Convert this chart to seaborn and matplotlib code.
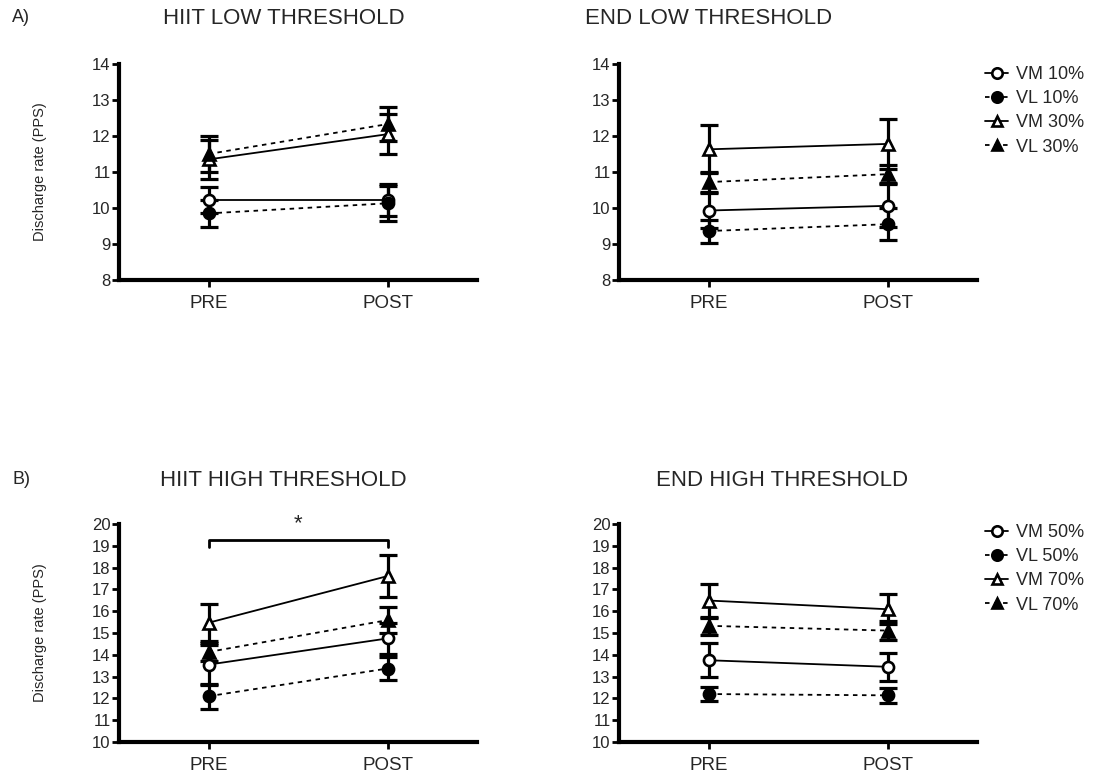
import matplotlib
matplotlib.use("Agg")
import matplotlib.pyplot as plt
from matplotlib.lines import Line2D
import numpy as np
import pandas as pd
import seaborn as sns

times = ["PRE", "POST"]
low_labels = ["VM 10%", "VL 10%", "VM 30%", "VL 30%"]
high_labels = ["VM 50%", "VL 50%", "VM 70%", "VL 70%"]

# HIIT low threshold (mean, SEM) per series: [PRE, POST]
hiit_low_vm10 = [10.22, 10.22]
hiit_low_vl10 = [9.85, 10.13]
hiit_low_vm30 = [11.35, 12.05]
hiit_low_vl30 = [11.50, 12.33]
hiit_low_sem_vm10 = [0.37, 0.44]
hiit_low_sem_vl10 = [0.37, 0.48]
hiit_low_sem_vm30 = [0.55, 0.55]
hiit_low_sem_vl30 = [0.50, 0.47]

# END low threshold
end_low_vm10 = [9.93, 10.06]
end_low_vl10 = [9.36, 9.55]
end_low_vm30 = [11.63, 11.78]
end_low_vl30 = [10.72, 10.94]
end_low_sem_vm10 = [0.48, 0.60]
end_low_sem_vl10 = [0.32, 0.45]
end_low_sem_vm30 = [0.67, 0.70]
end_low_sem_vl30 = [0.28, 0.25]

# HIIT high threshold
hiit_high_vm50 = [13.55, 14.75]
hiit_high_vl50 = [12.10, 13.37]
hiit_high_vm70 = [15.47, 17.61]
hiit_high_vl70 = [14.13, 15.59]
hiit_high_sem_vm50 = [0.92, 0.70]
hiit_high_sem_vl50 = [0.57, 0.54]
hiit_high_sem_vm70 = [0.85, 0.97]
hiit_high_sem_vl70 = [0.40, 0.61]

# END high threshold
end_high_vm50 = [13.75, 13.45]
end_high_vl50 = [12.20, 12.14]
end_high_vm70 = [16.49, 16.09]
end_high_vl70 = [15.33, 15.11]
end_high_sem_vm50 = [0.77, 0.65]
end_high_sem_vl50 = [0.33, 0.35]
end_high_sem_vm70 = [0.78, 0.69]
end_high_sem_vl70 = [0.40, 0.42]

low_ticks = [8, 9, 10, 11, 12, 13, 14]
high_ticks = list(range(10, 21))

sns.set_theme(style="white")
plt.rcParams["font.family"] = ["Liberation Sans", "DejaVu Sans"]

W, H = 1104, 774
fig = plt.figure(figsize=(W / 100, H / 100), dpi=100)


def rect(left, right, top, bottom):
    return [left / W, 1 - bottom / H, (right - left) / W, (bottom - top) / H]


ax_tl = fig.add_axes(rect(119, 477, 64, 280))
ax_tr = fig.add_axes(rect(619, 977, 64, 280))
ax_bl = fig.add_axes(rect(119, 477, 524, 742))
ax_br = fig.add_axes(rect(619, 977, 524, 742))

markers = [dict(marker="o", mfc="white"), dict(marker="o", mfc="black"),
           dict(marker="^", mfc="white"), dict(marker="^", mfc="black")]
dash_map = ["", (2.5, 2.5), "", (2.5, 2.5)]
MS = 8


def panel(ax, labels, means, sems, ticks):
    rows = []
    for lab, m in zip(labels, means):
        for t, v in zip(times, m):
            rows.append({"time": t, "series": lab, "value": v})
    df = pd.DataFrame(rows)
    sns.lineplot(data=df, x="time", y="value", hue="series", style="series",
                 hue_order=labels, style_order=labels,
                 palette=["black"] * 4, dashes=dict(zip(labels, dash_map)),
                 linewidth=1.3, legend=False, ax=ax, sort=False, zorder=2)
    for i, (m, s) in enumerate(zip(means, sems)):
        ax.errorbar([0, 1], m, yerr=s, fmt="none", ecolor="black",
                    elinewidth=2.3, capsize=6.5, capthick=2.3, zorder=3)
        ax.plot([0, 1], m, ls="none", mec="black", ms=MS, mew=1.9, zorder=4,
                **markers[i])
    ax.set_xlim(-0.5, 1.5)
    ax.set_ylim(ticks[0], ticks[-1])
    ax.set_yticks(ticks)
    ax.set_xticks([0, 1])
    ax.set_xticklabels(times)
    ax.set_xlabel("")
    ax.set_ylabel("")
    for side in ["top", "right"]:
        ax.spines[side].set_visible(False)
    for side in ["left", "bottom"]:
        ax.spines[side].set_linewidth(3)
        ax.spines[side].set_color("black")
    ax.tick_params(axis="both", direction="out", length=5, width=2,
                   color="black", left=True, bottom=True, pad=2)
    ax.tick_params(axis="y", labelsize=12, pad=1)
    ax.tick_params(axis="x", labelsize=13.5, pad=6)


panel(ax_tl, low_labels,
      [hiit_low_vm10, hiit_low_vl10, hiit_low_vm30, hiit_low_vl30],
      [hiit_low_sem_vm10, hiit_low_sem_vl10, hiit_low_sem_vm30, hiit_low_sem_vl30],
      low_ticks)
panel(ax_tr, low_labels,
      [end_low_vm10, end_low_vl10, end_low_vm30, end_low_vl30],
      [end_low_sem_vm10, end_low_sem_vl10, end_low_sem_vm30, end_low_sem_vl30],
      low_ticks)
panel(ax_bl, high_labels,
      [hiit_high_vm50, hiit_high_vl50, hiit_high_vm70, hiit_high_vl70],
      [hiit_high_sem_vm50, hiit_high_sem_vl50, hiit_high_sem_vm70, hiit_high_sem_vl70],
      high_ticks)
panel(ax_br, high_labels,
      [end_high_vm50, end_high_vl50, end_high_vm70, end_high_vl70],
      [end_high_sem_vm50, end_high_sem_vl50, end_high_sem_vm70, end_high_sem_vl70],
      high_ticks)

# significance bracket
ax_bl.plot([0, 0, 1, 1], [18.95, 19.27, 19.27, 18.95], color="black", lw=2,
           clip_on=False)
ax_bl.text(0.5, 20.0, "*", ha="center", va="center", fontsize=16)

# titles and labels
def ftext(x, y, s, **kw):
    fig.text(x / W, 1 - y / H, s, **kw)

ftext(284, 18, "HIIT LOW THRESHOLD", ha="center", va="center", fontsize=16)
ftext(709, 18, "END LOW THRESHOLD", ha="center", va="center", fontsize=16)
ftext(283, 480, "HIIT HIGH THRESHOLD", ha="center", va="center", fontsize=16)
ftext(782, 480, "END HIGH THRESHOLD", ha="center", va="center", fontsize=16)
ftext(12, 18, "A)", ha="left", va="center", fontsize=13)
ftext(12, 480, "B)", ha="left", va="center", fontsize=13)
ftext(40, 172, "Discharge rate (PPS)", ha="center", va="center",
      rotation=90, fontsize=10.5)
ftext(40, 633, "Discharge rate (PPS)", ha="center", va="center",
      rotation=90, fontsize=10.5)


def legend_handles():
    hs = []
    for i in range(4):
        ls = "-" if dash_map[i] == "" else (0, (2.5, 2.5))
        hs.append(Line2D([0], [0], color="black", lw=1.3, ls=ls, mec="black",
                         ms=7.5, mew=1.9, **markers[i]))
    return hs


fig.legend(legend_handles(), low_labels, loc="upper left",
           bbox_to_anchor=(985 / W, 1 - 66 / H), frameon=False, fontsize=13,
           handlelength=1.3, handletextpad=0.4, labelspacing=0.4,
           borderaxespad=0, borderpad=0)
fig.legend(legend_handles(), high_labels, loc="upper left",
           bbox_to_anchor=(985 / W, 1 - 524 / H), frameon=False, fontsize=13,
           handlelength=1.3, handletextpad=0.4, labelspacing=0.4,
           borderaxespad=0, borderpad=0)

fig.savefig("out.png", dpi=100, facecolor="white")
